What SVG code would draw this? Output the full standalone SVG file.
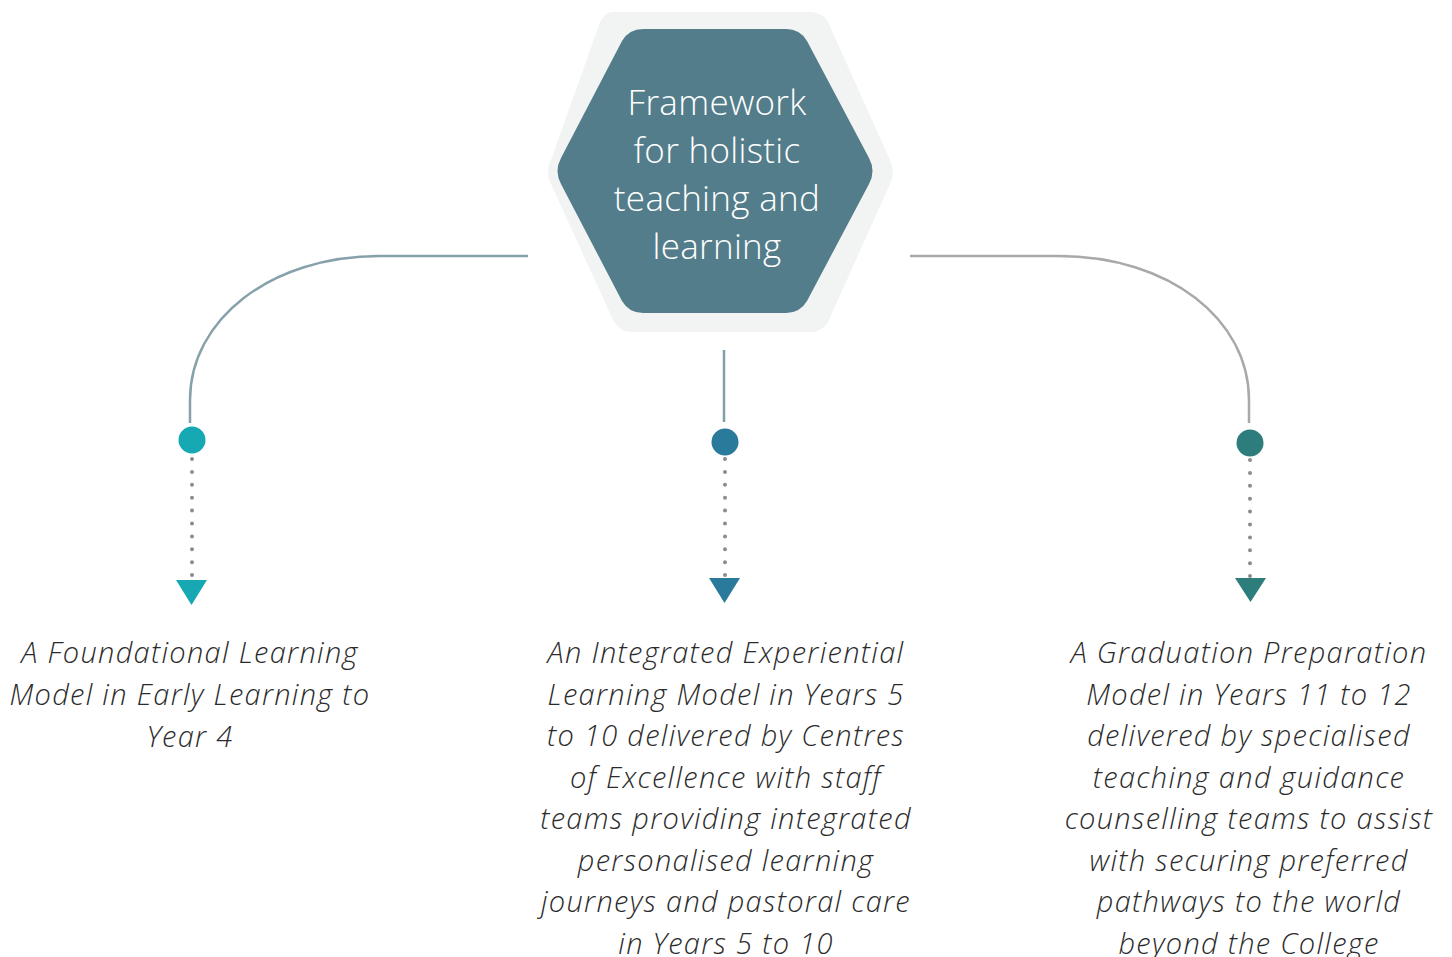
<svg xmlns="http://www.w3.org/2000/svg" width="1452" height="957" viewBox="0 0 1452 957">
<style>
.hub{font-family:"Open Sans","Liberation Sans",sans-serif;font-weight:300;font-size:35px;letter-spacing:0.3px;fill:#ffffff;text-anchor:middle}
.lbl{font-family:"Open Sans","Liberation Sans",sans-serif;font-weight:300;font-style:italic;font-size:29px;letter-spacing:1.3px;fill:#2b2b2b;text-anchor:middle}
.dots{stroke:#8c8c8c;stroke-width:4;stroke-linecap:round;stroke-dasharray:0 12.9;fill:none}
.link{fill:none;stroke-width:2.5}
</style>
<rect width="1452" height="957" fill="#ffffff"/>
<g id="hub">
<path d="M612,12 H810 Q822,12 828,22 L890,160 Q896,172 890,184 L828,322 Q822,332 810,332 H632 Q620,332 614,322 L551,184 Q545,172 551,160 L600,22 Q606,12 612,12 Z" fill="#f2f3f3"/>
<path d="M643,29 H786 Q800,29 807,41 L869,158 Q876,171 869,184 L807,301 Q800,313 786,313 H643 Q629,313 622,301 L561,184 Q554,171 561,158 L622,41 Q629,29 643,29 Z" fill="#537d8a"/>
<text class="hub" x="717" y="115">Framework</text>
<text class="hub" x="717" y="163">for holistic</text>
<text class="hub" x="717" y="211">teaching and</text>
<text class="hub" x="717" y="259">learning</text>
</g>
<g id="connectors">
<path class="link" stroke="#87a1ab" d="M528,256 H380 C270,256 190,320 190,400 V423"/>
<path class="link" stroke="#7f9faa" d="M724,350 V422"/>
<path class="link" stroke="#a9a9a9" d="M910,256 H1058 C1170,256 1249,320 1249,400 V423"/>
<path class="dots" d="M192,459 V576"/>
<path class="dots" d="M725,459 V576"/>
<path class="dots" d="M1250,460 V577"/>
</g>
<g id="branch-1">
<circle cx="192" cy="440" r="13.5" fill="#16a9b3"/>
<polygon points="176,580 207,580 191.5,605" fill="#16a9b3"/>
<text class="lbl" x="190" y="663">A Foundational Learning</text>
<text class="lbl" x="190" y="705">Model in Early Learning to</text>
<text class="lbl" x="190" y="747">Year 4</text>
</g>
<g id="branch-2">
<circle cx="725" cy="442" r="13.5" fill="#2a7a9b"/>
<polygon points="709,578 740,578 724.5,603" fill="#2a7a9b"/>
<text class="lbl" x="726" y="663">An Integrated Experiential</text>
<text class="lbl" x="726" y="705">Learning Model in Years 5</text>
<text class="lbl" x="726" y="746">to 10 delivered by Centres</text>
<text class="lbl" x="726" y="788">of Excellence with staff</text>
<text class="lbl" x="726" y="829">teams providing integrated</text>
<text class="lbl" x="726" y="871">personalised learning</text>
<text class="lbl" x="726" y="912">journeys and pastoral care</text>
<text class="lbl" x="726" y="954">in Years 5 to 10</text>
</g>
<g id="branch-3">
<circle cx="1250" cy="443" r="13.5" fill="#2e7d7d"/>
<polygon points="1235,578 1266,578 1250.5,602" fill="#2e7d7d"/>
<text class="lbl" x="1249" y="663">A Graduation Preparation</text>
<text class="lbl" x="1249" y="705">Model in Years 11 to 12</text>
<text class="lbl" x="1249" y="746">delivered by specialised</text>
<text class="lbl" x="1249" y="788">teaching and guidance</text>
<text class="lbl" x="1249" y="829">counselling teams to assist</text>
<text class="lbl" x="1249" y="871">with securing preferred</text>
<text class="lbl" x="1249" y="912">pathways to the world</text>
<text class="lbl" x="1249" y="954">beyond the College</text>
</g>
</svg>
